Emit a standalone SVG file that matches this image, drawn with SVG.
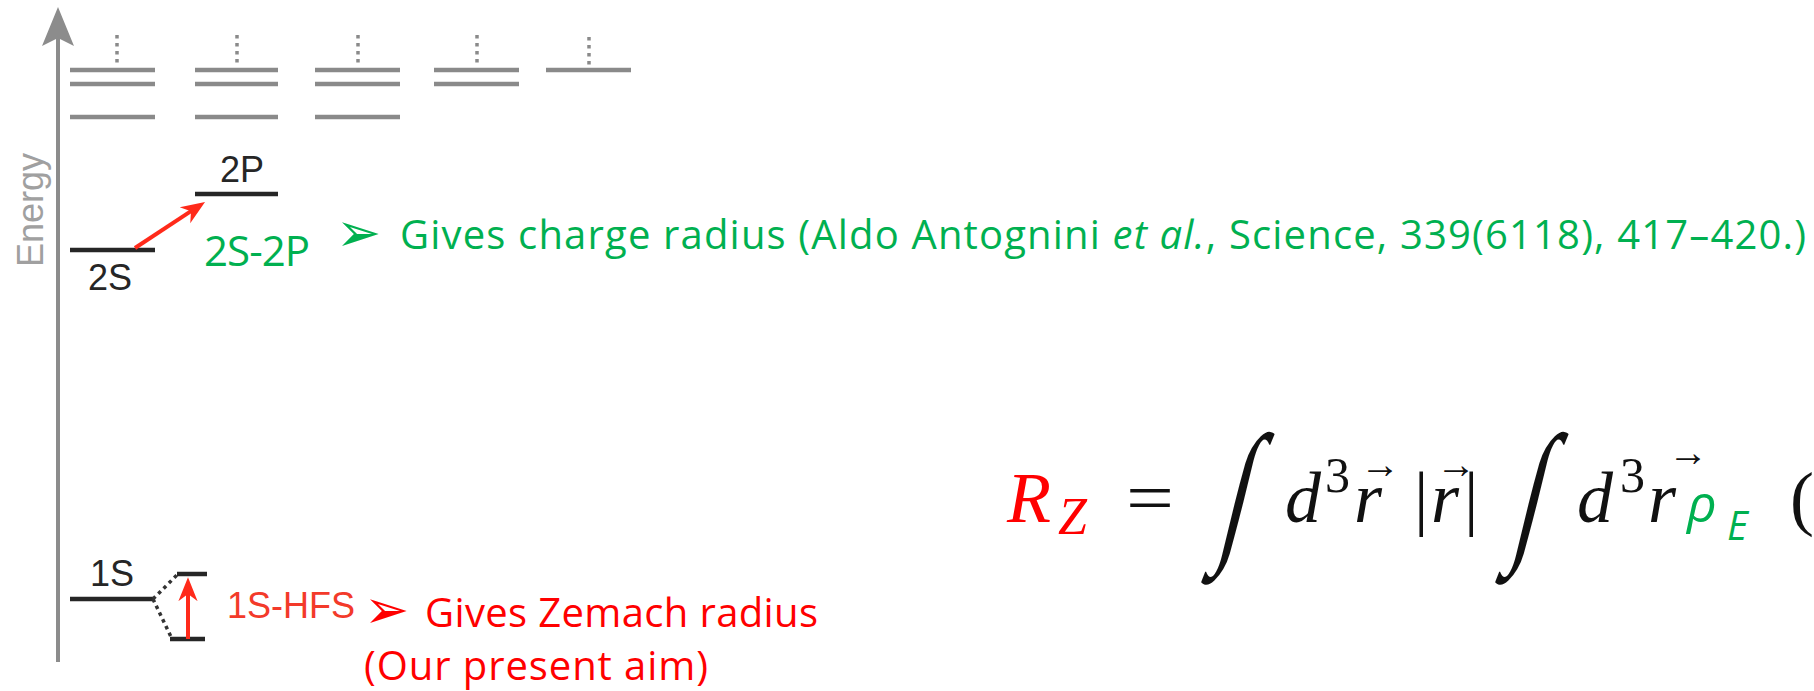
<svg xmlns="http://www.w3.org/2000/svg" width="1814" height="691" viewBox="0 0 1814 691">
<style>
.lvl{stroke:#8a8a8a;stroke-width:4.5}
.dots{stroke:#8a8a8a;stroke-width:3.5;stroke-dasharray:3.5 4.5}
.blk{stroke:#262626;stroke-width:4.5}
.dash{stroke:#333;stroke-width:3.5;stroke-dasharray:3.5 4;fill:none}
.hel{font-family:"Liberation Sans",Arial,sans-serif;font-size:36px;fill:#262626}
.cal{font-family:"Open Sans","Noto Sans",sans-serif;font-size:40px}
.bul{font-family:"DejaVu Sans",sans-serif;font-size:54px}
.g{fill:#00b050}
.r{fill:#ff0000}
.m{font-family:"Liberation Serif","DejaVu Serif",serif;font-size:72px;font-style:italic;fill:#111}
.mu{font-family:"Liberation Serif","DejaVu Serif",serif;font-size:72px;fill:#111}
.int{font-family:"Liberation Serif","DejaVu Serif",serif;font-size:156px;fill:#111}
.vec{font-family:"Liberation Serif","DejaVu Serif",serif;font-size:40px;font-weight:bold;fill:#111}
.arr{stroke:#ff2a1a;stroke-width:4;marker-end:url(#ah)}
</style>
<defs>
<marker id="ah" viewBox="0 0 10 10" refX="3" refY="5" markerWidth="6" markerHeight="6" orient="auto" markerUnits="strokeWidth">
<path d="M0,1 L10,5 L0,9 L3,5 z" fill="#ff2a1a"/>
</marker>
</defs>

<g id="axis">
<line x1="58" y1="36" x2="58" y2="662" stroke="#8c8c8c" stroke-width="4"/>
<polygon points="58,7 74,46 58,38 42,46" fill="#8c8c8c"/>
<text transform="translate(43,210) rotate(-90)" text-anchor="middle" font-family="Liberation Sans, Arial, sans-serif" font-size="36" fill="#a0a0a0">Energy</text>
</g>

<g id="levels-n1">
<line class="dots" x1="117" y1="35" x2="117" y2="66"/>
<line class="lvl" x1="70" y1="70" x2="155" y2="70"/>
<line class="lvl" x1="70" y1="84" x2="155" y2="84"/>
<line class="lvl" x1="70" y1="117" x2="155" y2="117"/>
</g>
<g id="levels-n2">
<line class="dots" x1="237" y1="35" x2="237" y2="66"/>
<line class="lvl" x1="195" y1="70" x2="278" y2="70"/>
<line class="lvl" x1="195" y1="84" x2="278" y2="84"/>
<line class="lvl" x1="195" y1="117" x2="278" y2="117"/>
</g>
<g id="levels-n3">
<line class="dots" x1="358" y1="35" x2="358" y2="66"/>
<line class="lvl" x1="315" y1="70" x2="400" y2="70"/>
<line class="lvl" x1="315" y1="84" x2="400" y2="84"/>
<line class="lvl" x1="315" y1="117" x2="400" y2="117"/>
</g>
<g id="levels-n4">
<line class="dots" x1="477" y1="35" x2="477" y2="66"/>
<line class="lvl" x1="434" y1="70" x2="519" y2="70"/>
<line class="lvl" x1="434" y1="84" x2="519" y2="84"/>
</g>
<g id="levels-n5">
<line class="dots" x1="589" y1="37" x2="589" y2="66"/>
<line class="lvl" x1="546" y1="70" x2="631" y2="70"/>
</g>

<g id="level-2P">
<line class="blk" x1="195" y1="194" x2="278" y2="194"/>
<text class="hel" x="220" y="182">2P</text>
</g>
<g id="level-2S">
<line class="blk" x1="70" y1="250" x2="155" y2="250"/>
<text class="hel" x="88" y="290">2S</text>
</g>
<g id="level-1S">
<line class="blk" x1="70" y1="599" x2="153" y2="599"/>
<text class="hel" x="90" y="586">1S</text>
</g>
<g id="level-1S-F1">
<line class="blk" x1="177" y1="574" x2="207" y2="574"/>
</g>
<g id="level-1S-F0">
<line class="blk" x1="170" y1="639" x2="205" y2="639"/>
</g>

<g id="connectors">
<path class="dash" d="M153,599 L177,575"/>
<path class="dash" d="M153,599 L172,639"/>
<line class="arr" x1="135" y1="248" x2="191" y2="211.2"/>
<line class="arr" x1="188" y1="639" x2="188" y2="594"/>
</g>

<g id="label-2S-2P">
<text class="cal g" x="204" y="266" style="font-size:42px" textLength="106">2S-2P</text>
</g>
<g id="label-charge">
<text class="bul g" x="336" y="251">➢</text>
<text class="cal g" x="400" y="249" textLength="1406">Gives charge radius (Aldo Antognini <tspan font-style="italic">et al.</tspan>, Science, 339(6118), 417–420.)</text>
</g>
<g id="label-1S-HFS">
<text class="hel" x="227" y="618" style="fill:#f33a2a" textLength="128">1S-HFS</text>
</g>
<g id="label-zemach">
<text class="bul r" x="364" y="628">➢</text>
<text class="cal r" x="425" y="627" textLength="393">Gives Zemach radius</text>
<text class="cal r" x="364" y="680" textLength="344">(Our present aim)</text>
</g>

<g id="formula">
<text class="m" x="1007" y="522" style="fill:#ff0000">R</text>
<text class="m" x="1058" y="534" style="fill:#ff0000;font-size:52px">Z</text>
<text class="mu" x="1126" y="522" textLength="48" lengthAdjust="spacingAndGlyphs">=</text>
<text class="int" transform="translate(1216,543) skewX(-14) scale(0.62,1)">∫</text>
<text class="m" x="1285" y="522">d</text>
<text class="mu" x="1325" y="492" style="font-size:50px">3</text>
<text class="m" x="1354" y="522">r</text>
<text class="vec" x="1360" y="478">→</text>
<text class="mu" x="1414" y="522">|</text>
<text class="m" x="1431" y="522">r</text>
<text class="vec" x="1436" y="478">→</text>
<text class="mu" x="1464" y="522">|</text>
<text class="int" transform="translate(1510,543) skewX(-14) scale(0.62,1)">∫</text>
<text class="m" x="1577" y="522">d</text>
<text class="mu" x="1620" y="492" style="font-size:50px">3</text>
<text class="m" x="1648" y="522">r</text>
<text class="vec" x="1668" y="466">→</text>
<text class="cal g" x="1687" y="522" style="font-size:52px;font-style:italic">ρ</text>
<text class="cal g" x="1727" y="540" style="font-size:40px;font-style:italic">E</text>
<text class="mu" x="1790" y="522">(</text>
</g>
</svg>
